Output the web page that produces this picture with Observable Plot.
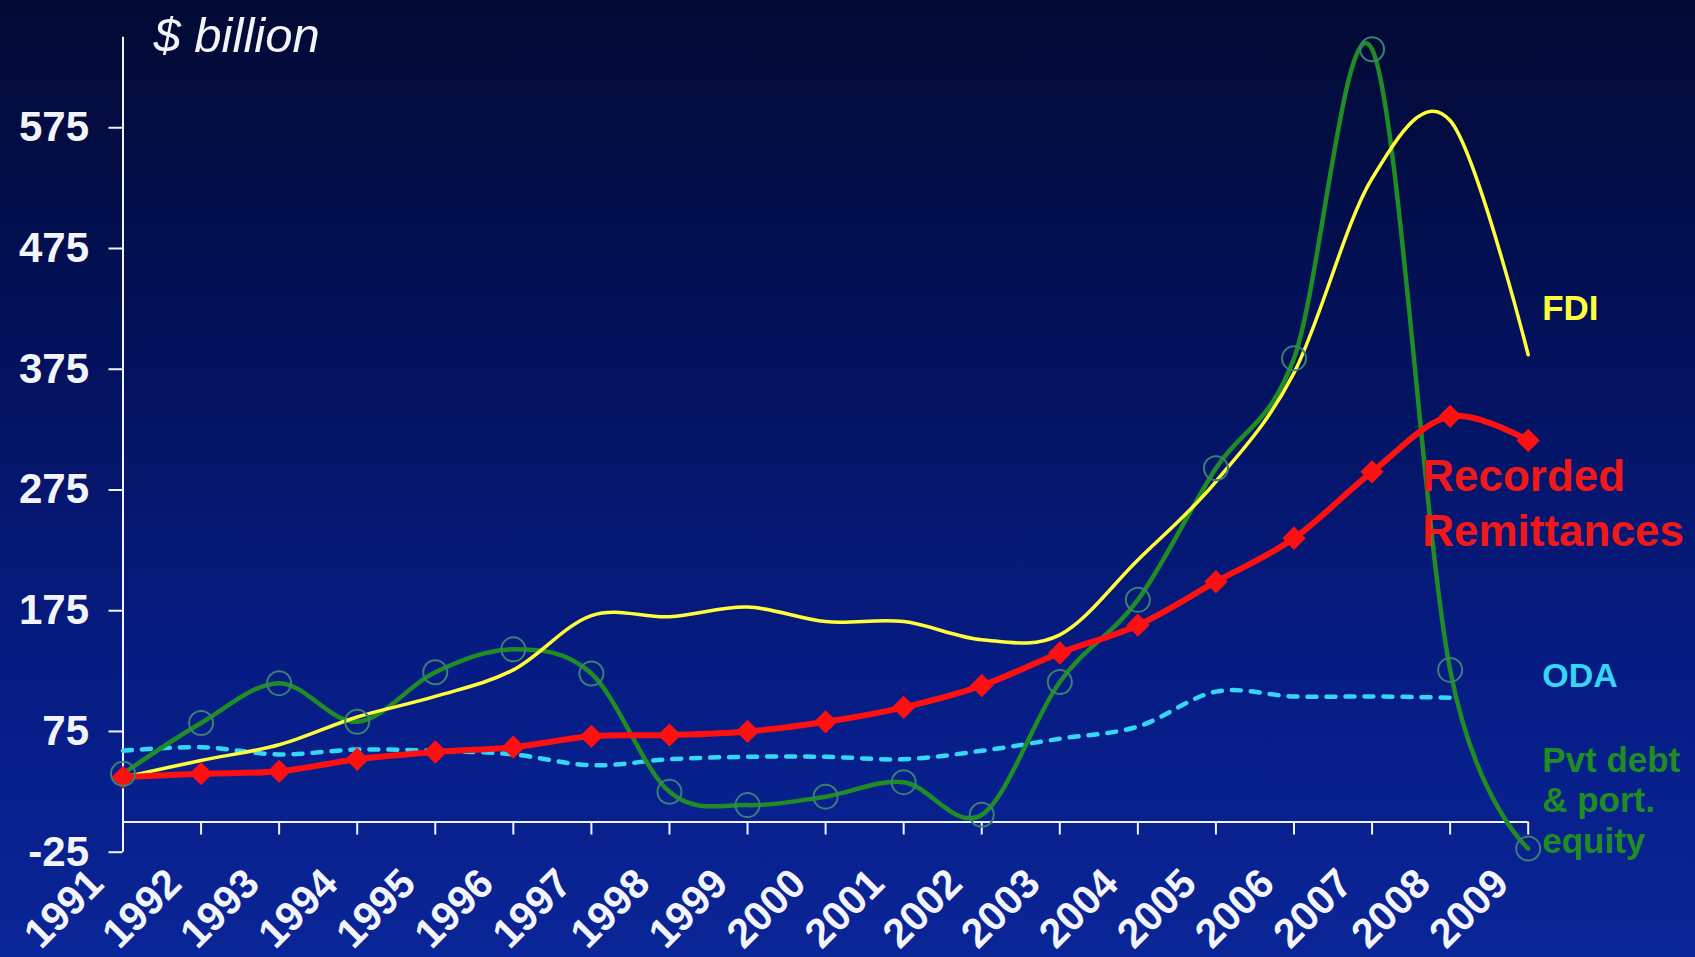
<!DOCTYPE html>
<html>
<head>
<meta charset="utf-8">
<script src="https://cdn.jsdelivr.net/npm/d3@7"></script>
<script src="https://cdn.jsdelivr.net/npm/@observablehq/plot@0.6"></script>
<style>
  html, body { margin: 0; padding: 0; width: 1695px; height: 957px; overflow: hidden;
    background: linear-gradient(180deg, #020a33 0%, #03115a 35%, #061c84 70%, #0a2597 100%); }
  #chart svg { display: block; }
</style>
</head>
<body>
<div id="chart"></div>
<script>
// ---- data ----
const years = [1991, 1992, 1993, 1994, 1995, 1996, 1997, 1998, 1999, 2000,
               2001, 2002, 2003, 2004, 2005, 2006, 2007, 2008, 2009];
const remittances = [37, 40, 42, 52, 58, 62, 71, 72, 75, 83, 95, 113, 140, 163, 199, 235, 290, 336, 316];
const fdi = [37, 51, 64, 87, 104, 126, 171, 170, 178, 166, 166, 151, 155, 217, 282, 372, 533, 581, 387];
const oda = [59, 62, 56, 60, 59, 56, 47, 52, 54, 54, 52, 59, 69, 79, 108, 104, 104, 103]; // 1991-2008
const pvtDebtEquity = [40, 82, 115, 83, 124, 143, 123, 25, 14, 21, 33, 6, 116, 184, 293, 384, 640, 126, -22];
const yTicks = [-25, 75, 175, 275, 375, 475, 575];
const unitLabel = "$ billion";
const seriesLabels = ["FDI", "Recorded\nRemittances", "ODA", "Pvt debt\n& port.\nequity"];

// ---- styling ----
const W = 1695, H = 957;
const font = "'Liberation Sans', Arial, Helvetica, sans-serif";
const white = "#f3f4fa";
const cYellow = "#ffff3a", cRed = "#ff1010", cCyan = "#35d6f6", cGreen = "#1f8d24", cCircle = "#3a7f74";

const rows = (vals) => vals.map((v, i) => ({year: years[i], value: v}));
const first = years[0], last = years[years.length - 1];

const chart = Plot.plot({
  width: W, height: H,
  marginLeft: 122.5, marginRight: 167.3, marginTop: 36.7, marginBottom: 105.3,
  x: {domain: [first, last], axis: null},
  y: {domain: [-25, 650], axis: null},
  style: {background: "transparent", fontFamily: font, overflow: "visible"},
  marks: [
    // axes lines
    Plot.ruleX([first], {stroke: white, strokeWidth: 2}),
    Plot.ruleY([0], {stroke: white, strokeWidth: 2}),
    Plot.ruleX(years, {x: d => d, y1: 0, y2: 0, insetTop: 0, insetBottom: -13, stroke: white, strokeWidth: 2}),
    Plot.axisY({ticks: yTicks, tickSize: 14, tickPadding: 20, tickFormat: d => String(d),
      color: white, strokeWidth: 2, fontSize: 42, fontWeight: "bold", fontFamily: font, label: null}),
    Plot.text(years, {x: d => d, text: d => String(d), frameAnchor: "bottom", rotate: -45,
      textAnchor: "end", lineAnchor: "top", dx: -38, dy: 13, fill: white,
      fontSize: 41, fontWeight: "bold", fontFamily: font}),
    // series
    Plot.line(rows(oda), {x: "year", y: "value", curve: "cardinal", stroke: cCyan,
      strokeWidth: 4.5, strokeDasharray: "9,10"}),
    Plot.line(rows(pvtDebtEquity), {x: "year", y: "value", curve: "cardinal", stroke: cGreen, strokeWidth: 4.5}),
    Plot.line(rows(fdi), {x: "year", y: "value", curve: "cardinal", stroke: cYellow, strokeWidth: 3.5}),
    Plot.line(rows(remittances), {x: "year", y: "value", curve: "cardinal", stroke: cRed, strokeWidth: 6}),
    Plot.dot(rows(remittances), {x: "year", y: "value", symbol: "diamond2", r: 10.5, fill: cRed}),
    Plot.dot(rows(pvtDebtEquity), {x: "year", y: "value", r: 12, fill: "none", stroke: cCircle, strokeWidth: 2}),
    // labels
    Plot.text([unitLabel], {frameAnchor: "top-left", dx: 30.5, dy: 15, textAnchor: "start", lineAnchor: "bottom",
      fill: white, fontSize: 49, fontStyle: "italic", fontFamily: font}),
    Plot.text([seriesLabels[0]], {x: last, y: 416, dx: 14, textAnchor: "start", lineAnchor: "bottom",
      fill: cYellow, fontSize: 35, fontWeight: "bold", fontFamily: font}),
    Plot.text([seriesLabels[1]], {x: last, y: 229, dx: -106, textAnchor: "start", lineAnchor: "bottom",
      lineHeight: 1.25, fill: "#f01818", fontSize: 44, fontWeight: "bold", fontFamily: font}),
    Plot.text([seriesLabels[2]], {x: last, y: 112, dx: 14, textAnchor: "start", lineAnchor: "bottom",
      fill: cCyan, fontSize: 34, fontWeight: "bold", fontFamily: font}),
    Plot.text([seriesLabels[3]], {x: last, y: -26, dx: 14, textAnchor: "start", lineAnchor: "bottom",
      lineHeight: 1.17, fill: cGreen, fontSize: 35, fontWeight: "bold", fontFamily: font})
  ]
});
document.getElementById("chart").appendChild(chart);
</script>
</body>
</html>
